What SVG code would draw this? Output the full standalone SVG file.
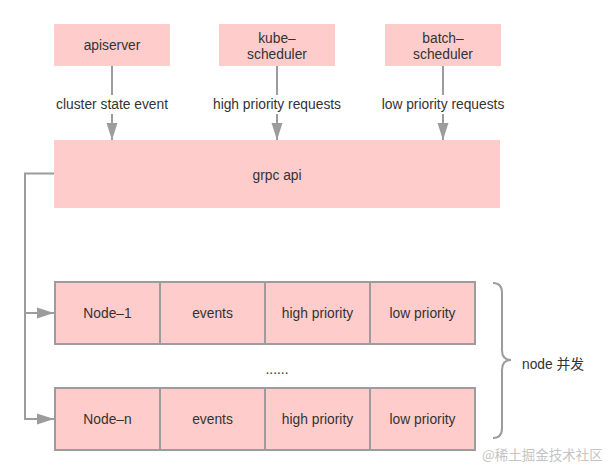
<svg xmlns="http://www.w3.org/2000/svg" width="611" height="476" viewBox="0 0 611 476">
<style>
.box{fill:#ffcccc}
.cell{fill:#ffcccc;stroke:#9c9c9c;stroke-width:2}
.t{font-family:"Liberation Sans","Noto Sans CJK SC",sans-serif;font-size:13.8px;fill:#333;text-anchor:middle}
.lbl{font-family:"Liberation Sans","Noto Sans CJK SC",sans-serif;font-size:13.8px;fill:#333;text-anchor:middle}
.ln{fill:none;stroke:#9c9c9c;stroke-width:2}
</style>
<defs>
<marker id="ah" markerUnits="userSpaceOnUse" markerWidth="17" markerHeight="12" refX="17" refY="6" orient="auto">
<path d="M0,0.5 L17,6 L0,11.5 z" fill="#9c9c9c"/>
</marker>
</defs>
<rect width="611" height="476" fill="#fff"/>
<g id="connectors">
<line class="ln" x1="112" y1="66" x2="112" y2="140" marker-end="url(#ah)"/>
<line class="ln" x1="277" y1="66" x2="277" y2="140" marker-end="url(#ah)"/>
<line class="ln" x1="443" y1="66" x2="443" y2="140" marker-end="url(#ah)"/>
<rect x="40" y="95" width="500" height="19" fill="#fff"/>
<text class="lbl" x="112" y="109">cluster state event</text>
<text class="lbl" x="277" y="109">high priority requests</text>
<text class="lbl" x="443" y="109">low priority requests</text>
<polyline class="ln" points="54,173.5 25,173.5 25,419 54,419" marker-end="url(#ah)"/>
<line class="ln" x1="25" y1="313" x2="54" y2="313" marker-end="url(#ah)"/>
</g>
<g id="apiserver">
<rect class="box" x="54" y="24" width="116" height="42"/>
<text class="t" x="112" y="50">apiserver</text>
</g>
<g id="kube-scheduler">
<rect class="box" x="219" y="24" width="116" height="42"/>
<text class="t" x="277" y="43">kube–</text>
<text class="t" x="277" y="59">scheduler</text>
</g>
<g id="batch-scheduler">
<rect class="box" x="385" y="24" width="116" height="42"/>
<text class="t" x="443" y="43">batch–</text>
<text class="t" x="443" y="59">scheduler</text>
</g>
<g id="grpc-api">
<rect class="box" x="54" y="140" width="446" height="68"/>
<text class="t" x="277" y="180">grpc api</text>
</g>
<g id="node-1">
<rect class="cell" x="55" y="282" width="105" height="62"/>
<rect class="cell" x="160" y="282" width="105" height="62"/>
<rect class="cell" x="265" y="282" width="105" height="62"/>
<rect class="cell" x="370" y="282" width="105" height="62"/>
<text class="t" x="107.5" y="318">Node–1</text>
<text class="t" x="212.5" y="318">events</text>
<text class="t" x="317.5" y="318">high priority</text>
<text class="t" x="422.5" y="318">low priority</text>
</g>
<g id="dots">
<text class="t" x="277" y="374">......</text>
</g>
<g id="node-n">
<rect class="cell" x="55" y="388" width="105" height="62"/>
<rect class="cell" x="160" y="388" width="105" height="62"/>
<rect class="cell" x="265" y="388" width="105" height="62"/>
<rect class="cell" x="370" y="388" width="105" height="62"/>
<text class="t" x="107.5" y="424">Node–n</text>
<text class="t" x="212.5" y="424">events</text>
<text class="t" x="317.5" y="424">high priority</text>
<text class="t" x="422.5" y="424">low priority</text>
</g>
<g id="brace">
<path class="ln" d="M493,283 Q502,283 502,293 L502,350 Q502,360 511,360 Q502,360 502,370 L502,428 Q502,438 493,438"/>
<text class="t" x="522" y="369" style="text-anchor:start">node 并发</text>
</g>
<text x="482" y="460" style="font-family:'Noto Sans CJK SC',sans-serif;font-size:13.5px;fill:#c4c4c4">@稀土掘金技术社区</text>
</svg>
